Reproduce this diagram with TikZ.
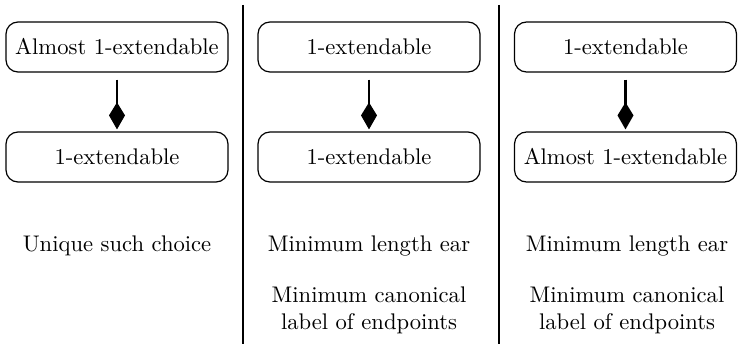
\documentclass[tikz,border=0pt]{standalone}
\usepackage{fontspec}
\newfontfamily\labelface{lmroman10-regular.otf}
\usetikzlibrary{arrows.meta}
\begin{document}
\begin{tikzpicture}[x=1pt,y=-1pt,
  state/.style={draw, line width=1.2pt, rounded corners=12pt,
    minimum width=222pt, minimum height=50pt, inner sep=0pt,
    font=\labelface\fontsize{22.6}{26}\selectfont},
  flow/.style={line width=2.6pt,
    -{Kite[length=27pt,width=16pt,inset=13pt]},
    shorten <=7pt, shorten >=2pt},
  divider/.style={line width=2pt},
  note/.style={anchor=base, inner sep=0pt,
    font=\labelface\fontsize{22.6}{26}\selectfont}]
\useasboundingbox (0,0) rectangle (738,344);

% column 1
\node[state] (a1) at (117,47)  {Almost 1-extendable};
\node[state] (a2) at (117,157) {1-extendable};
\draw[flow] (a1) -- (a2);
\node[note] (a3) at (117,252) {Unique such choice};

% column 2
\node[state] (b1) at (369,47)  {1-extendable};
\node[state] (b2) at (369,157) {1-extendable};
\draw[flow] (b1) -- (b2);
\node[note] (b3) at (369,252) {Minimum length ear};
\node[note] (b4) at (369,302) {Minimum canonical};
\node[note] (b5) at (369,329) {label of endpoints};

% column 3
\node[state] (c1) at (625.5,47)  {1-extendable};
\node[state] (c2) at (625.5,157) {Almost 1-extendable};
\draw[flow] (c1) -- (c2);
\node[note] (c3) at (627,252) {Minimum length ear};
\node[note] (c4) at (627,302) {Minimum canonical};
\node[note] (c5) at (627,329) {label of endpoints};

% separators between the columns
\coordinate (d1t) at (242.5,5);
\coordinate (d1b) at (242.5,344);
\coordinate (d2t) at (499,5);
\coordinate (d2b) at (499,344);
\draw[divider] (d1t) -- (d1b);
\draw[divider] (d2t) -- (d2b);
\end{tikzpicture}
\end{document}
